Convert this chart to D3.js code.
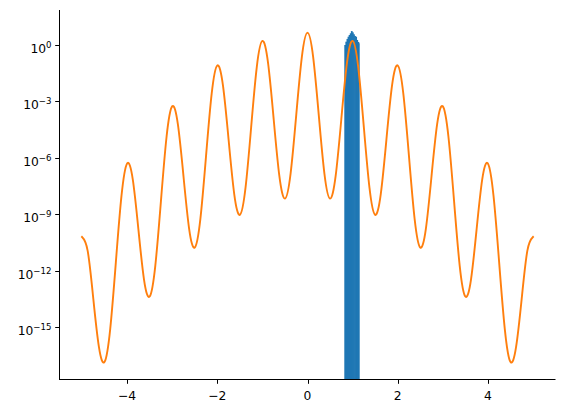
<!DOCTYPE html>
<html><head><meta charset="utf-8">
<script src="https://cdn.jsdelivr.net/npm/d3@7"></script>
<style>body{margin:0;background:#fff} text{font-family:"DejaVu Sans",sans-serif;fill:#000}</style>
</head><body><svg id="c" width="565" height="413"></svg>
<script>
// sample positions of the orange curve
const xs = [-5,-4.875,-4.75,-4.625,-4.5,-4.375,-4.25,-4.125,-4,-3.875,-3.75,-3.625,-3.5,-3.375,-3.25,-3.125,
  -3,-2.875,-2.75,-2.625,-2.5,-2.375,-2.25,-2.125,-2,-1.875,-1.75,-1.625,-1.5,-1.375,-1.25,-1.125,
  -1,-0.875,-0.75,-0.625,-0.5,-0.375,-0.25,-0.125,0,0.125,0.25,0.375,0.5,0.625,0.75,0.875,
  1,1.125,1.25,1.375,1.5,1.625,1.75,1.875,2,2.125,2.25,2.375,2.5,2.625,2.75,2.875,
  3,3.125,3.25,3.375,3.5,3.625,3.75,3.875,4,4.125,4.25,4.375,4.5,4.625,4.75,4.875,5];
// curve values (log axis)
const density = [6.3e-11,1.15e-11,3.22e-14,8.7e-17,1.45e-17,8.26e-16,2.89e-12,9.8e-9,5.08e-7,7.2e-8,1.57e-10,3.32e-13,4.3e-14,1.9e-12,5.2e-9,1.37e-5,
  5.55e-4,6.15e-5,1.04e-7,1.71e-10,1.73e-11,5.97e-10,1.27e-6,2.61e-3,8.2e-2,7.08e-3,9.35e-6,1.2e-8,9.4e-10,2.53e-8,4.19e-5,6.71e-2,
  1.64,1.11e-1,1.14e-4,1.13e-7,6.9e-9,1.46e-7,1.87e-4,2.34e-1,4.47,2.34e-1,1.87e-4,1.46e-7,6.9e-9,1.13e-7,1.14e-4,1.11e-1,
  1.64,6.71e-2,4.19e-5,2.53e-8,9.4e-10,1.2e-8,9.35e-6,7.08e-3,8.2e-2,2.61e-3,1.27e-6,5.97e-10,1.73e-11,1.71e-10,1.04e-7,6.15e-5,
  5.55e-4,1.37e-5,5.2e-9,1.9e-12,4.3e-14,3.32e-13,1.57e-10,7.2e-8,5.08e-7,9.8e-9,2.89e-12,8.26e-16,1.45e-17,8.7e-17,3.22e-14,1.15e-11,6.3e-11];
// histogram bins
const histEdges = [0.816,0.840,0.865,0.889,0.913,0.938,0.962,0.986,1.010,1.035,1.059,1.083,1.107,1.132,1.156];
const histHeights = [1.0,1.5,2.1,2.75,3.4,4.2,5.5,4.7,3.7,3.0,2.75,1.85,1.45,1.23];
const yTickExps = [0,-3,-6,-9,-12,-15];
const xTicks = [-4,-2,0,2,4];

const M = {left:59.5, right:555.5, top:10, bottom:379};
const svg = d3.select("#c");
const x = d3.scaleLinear().domain([-5.5,5.5]).range([M.left,M.right]);
const y = d3.scaleLog().domain([Math.pow(10,-17.75), Math.pow(10,1.86)]).range([M.bottom,M.top]);

// histogram
const bins = histHeights.map((h,i)=>({x0:histEdges[i],x1:histEdges[i+1],h}));
svg.append("g").selectAll("rect").data(bins).join("rect")
  .attr("x",d=>x(d.x0)).attr("width",(d,i)=>x(d.x1)-x(d.x0)+(i<bins.length-1?0.7:0))
  .attr("y",d=>y(d.h)).attr("height",d=>M.bottom-y(d.h))
  .attr("fill","#1f77b4");

// curve
const pts = xs.map((v,i)=>[v,density[i]]);
svg.append("path").datum(pts)
  .attr("d", d3.line().x(d=>x(d[0])).y(d=>y(d[1])).curve(d3.curveNatural))
  .attr("fill","none").attr("stroke","#ff7f0e").attr("stroke-width",1.9)
  .attr("stroke-linejoin","round").attr("stroke-linecap","square");

// spines
svg.append("line").attr("x1",M.left).attr("x2",M.left).attr("y1",M.top).attr("y2",M.bottom+0.5)
  .attr("stroke","#000").attr("stroke-width",1);
svg.append("line").attr("x1",M.left-0.5).attr("x2",M.right).attr("y1",M.bottom+0.5).attr("y2",M.bottom+0.5)
  .attr("stroke","#000").attr("stroke-width",1);

// x ticks
const gx = svg.append("g");
xTicks.forEach(t=>{
  const px = Math.round(x(t))+0.5;
  gx.append("line").attr("x1",px).attr("x2",px).attr("y1",M.bottom+0.5).attr("y2",M.bottom+4.8)
    .attr("stroke","#000").attr("stroke-width",1);
  gx.append("text").attr("x",x(t)).attr("y",400).attr("text-anchor","middle")
    .attr("font-size","12.3px").text(t<0?"\u2212"+Math.abs(t):String(t));
});

// y ticks
const gy = svg.append("g");
yTickExps.forEach(e=>{
  const py = Math.round(y(Math.pow(10,e)))+0.5;
  gy.append("line").attr("x1",M.left-4.3).attr("x2",M.left).attr("y1",py).attr("y2",py)
    .attr("stroke","#000").attr("stroke-width",1);
  const t = gy.append("text").attr("x",M.left-8).attr("y",py+7).attr("text-anchor","end").attr("font-size","12.3px");
  t.append("tspan").text("10");
  t.append("tspan").attr("dy",-5).attr("font-size","8.6px").text(e<0?"\u2212"+Math.abs(e):String(e));
});
</script></body></html>
